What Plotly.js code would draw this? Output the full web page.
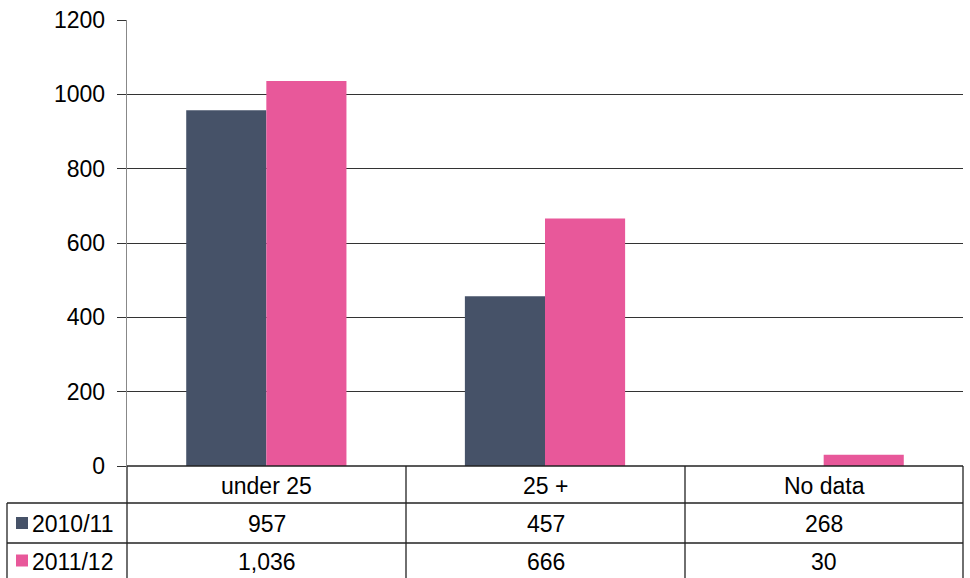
<!DOCTYPE html>
<html>
<head>
<meta charset="utf-8">
<script src="https://cdn.plot.ly/plotly-3.0.1.min.js"></script>
<style>html,body{margin:0;padding:0;background:#fff;}#chart{width:970px;height:578px;}</style>
</head>
<body>
<div id="chart"></div>
<script>
const categories = ["under 25", "25 +", "No data"];
const seriesNames = ["2010/11", "2011/12"];
// values shown in the data table
const table2010 = [957, 457, 268];
const table2011 = [1036, 666, 30];
// bars actually drawn (no 2010/11 bar for "No data" in the reference)
const bars2010 = [957, 457, null];
const bars2011 = [1036, 666, 30];
const colors = ["#465268", "#E8589A"];
const yTicks = [0, 200, 400, 600, 800, 1000, 1200];

const fmt = v => v.toLocaleString('en-US');
const font = {family: "Liberation Sans, Arial, sans-serif", size: 23, color: "#000"};

const traces = [
  {type: 'bar', x: categories, y: bars2010, name: seriesNames[0], marker: {color: colors[0]}, hoverinfo: 'none'},
  {type: 'bar', x: categories, y: bars2011, name: seriesNames[1], marker: {color: colors[1]}, hoverinfo: 'none'}
];

// table geometry in paper coords
const L = 127, R = 963, T = 20, B = 466, W = R - L, H = B - T;
const px = x => (x - L) / W;
const py = y => (B - y) / H;
const rowY = [466, 503, 543, 578];
const colX = [7, 127, 406, 685, 963];
const lineStyle = {color: "#222", width: 1.3};
const shapes = [];
shapes.push({type: 'line', xref: 'paper', yref: 'paper', x0: px(colX[1]), x1: px(colX[4]), y0: py(rowY[0]), y1: py(rowY[0]), line: lineStyle});
shapes.push({type: 'line', xref: 'paper', yref: 'paper', x0: px(colX[0]), x1: px(colX[4]), y0: py(rowY[1]), y1: py(rowY[1]), line: lineStyle});
shapes.push({type: 'line', xref: 'paper', yref: 'paper', x0: px(colX[0]), x1: px(colX[4]), y0: py(rowY[2]), y1: py(rowY[2]), line: lineStyle});
shapes.push({type: 'line', xref: 'paper', yref: 'paper', x0: px(colX[0]), x1: px(colX[0]), y0: py(rowY[1]), y1: py(rowY[3]), line: lineStyle});
for (let i = 1; i < colX.length; i++) {
  shapes.push({type: 'line', xref: 'paper', yref: 'paper', x0: px(colX[i]), x1: px(colX[i]), y0: py(rowY[0]), y1: py(rowY[3]), line: lineStyle});
}
const keyRows = [[rowY[1], rowY[2]], [rowY[2], rowY[3]]];
keyRows.forEach((r, i) => {
  const cy = (r[0] + r[1]) / 2;
  shapes.push({type: 'rect', xref: 'paper', yref: 'paper', x0: px(16), x1: px(28), y0: py(cy - 6), y1: py(cy + 6), fillcolor: colors[i], line: {width: 0}});
});

const annotations = [];
categories.forEach((c, i) => {
  const cx = (colX[i + 1] + colX[i + 2]) / 2;
  annotations.push({xref: 'paper', yref: 'paper', x: px(cx), y: py((rowY[0] + rowY[1]) / 2 + 1), text: c, showarrow: false, font: font, xanchor: 'center', yanchor: 'middle'});
  annotations.push({xref: 'paper', yref: 'paper', x: px(cx), y: py((rowY[1] + rowY[2]) / 2 + 1), text: fmt(table2010[i]), showarrow: false, font: font, xanchor: 'center', yanchor: 'middle'});
  annotations.push({xref: 'paper', yref: 'paper', x: px(cx), y: py((rowY[2] + rowY[3]) / 2 + 1), text: fmt(table2011[i]), showarrow: false, font: font, xanchor: 'center', yanchor: 'middle'});
});
seriesNames.forEach((s, i) => {
  const cy = (keyRows[i][0] + keyRows[i][1]) / 2;
  annotations.push({xref: 'paper', yref: 'paper', x: px(30), y: py(cy + 1), text: s, showarrow: false, font: font, xanchor: 'left', yanchor: 'middle'});
});

const layout = {
  width: 970, height: 578,
  margin: {l: L, r: 970 - R, t: T, b: 578 - B, pad: 0},
  paper_bgcolor: '#fff', plot_bgcolor: '#fff',
  showlegend: false,
  barmode: 'group', bargap: 0.425, bargroupgap: 0,
  xaxis: {showticklabels: false, showgrid: false, zeroline: false, showline: false, ticks: ''},
  yaxis: {range: [0, 1200], tickvals: yTicks, ticktext: yTicks.map(String), showgrid: true, gridcolor: '#333', gridwidth: 1,
          zeroline: false, showline: true, linecolor: '#888', linewidth: 1.3, ticks: 'outside', ticklen: 9, tickcolor: '#333',
          tickfont: font, ticklabelstandoff: 7},
  shapes: shapes,
  annotations: annotations
};
Plotly.newPlot('chart', traces, layout, {displayModeBar: false, staticPlot: true});
</script>
</body>
</html>
